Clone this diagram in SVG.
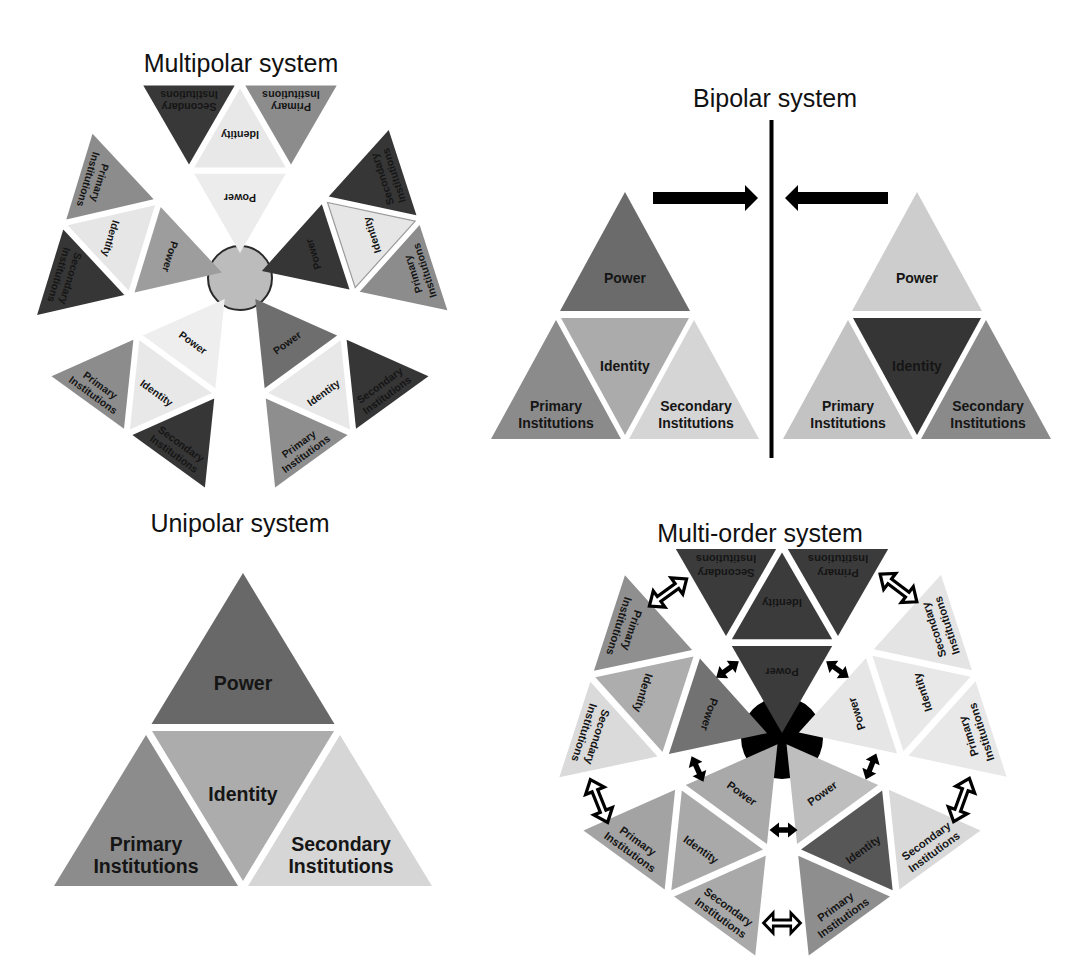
<svg xmlns="http://www.w3.org/2000/svg" width="1080" height="967" viewBox="0 0 1080 967">
<style>
.t{font-family:"Liberation Sans",Arial,sans-serif;font-weight:bold;fill:#151515;text-anchor:middle}
.ttl{font-family:"Liberation Sans",Arial,sans-serif;font-size:25px;fill:#111;text-anchor:middle}
.m{font-size:10.5px}.o{font-size:10px}.u{font-size:19.5px}.b{font-size:14px}
.sol{fill:#000}
.opn{fill:#fff;stroke:#000;stroke-width:3.2;stroke-linejoin:miter}
</style>
<defs>
<path id="da" d="M-14,0 L-4.5,-7.5 L-4.5,-2.7 L4.5,-2.7 L4.5,-7.5 L14,0 L4.5,7.5 L4.5,2.7 L-4.5,2.7 L-4.5,7.5 Z"/>
<path id="oa" d="M-23,0 L-11,-10 L-11,-3 L11,-3 L11,-10 L23,0 L11,10 L11,3 L-11,3 L-11,10 Z"/>
</defs>
<rect width="1080" height="967" fill="#fff"/>

<g id="titles">
<text class="ttl" x="241" y="72">Multipolar system</text>
<text class="ttl" x="775" y="107">Bipolar system</text>
<text class="ttl" x="240" y="532">Unipolar system</text>
<text class="ttl" x="760" y="542">Multi-order system</text>
</g>

<!-- Multipolar -->
<circle id="mp-center" cx="240" cy="278" r="32" fill="#bcbcbc" stroke="#2a2a2a" stroke-width="2"/>
<g id="mp-top" transform="translate(240,278) rotate(180) translate(0,19) scale(1.02)">
<polygon points="0,6 -44.8,83.6 44.8,83.6" fill="#ececec"/>
<polygon points="-44.8,89.6 44.8,89.6 0,167.2" fill="#e8e8e8"/>
<polygon points="-50,92.6 -94.8,170.2 -5.2,170.2" fill="#8c8c8c"/>
<polygon points="50,92.6 5.2,170.2 94.8,170.2" fill="#383838"/>
<text class="t m" x="0" y="63.7">Power</text>
<text class="t m" x="0" y="125.7">Identity</text>
<text class="t m" x="-50" y="152.6">Primary</text>
<text class="t m" x="-50" y="164.7">Institutions</text>
<text class="t m" x="50" y="152.6">Secondary</text>
<text class="t m" x="50" y="164.7">Institutions</text>
</g>
<g id="mp-left" transform="translate(240,278) rotate(107) translate(0,13)">
<polygon points="0,6 -44.8,83.6 44.8,83.6" fill="#9d9d9d"/>
<polygon points="-44.8,89.6 44.8,89.6 0,167.2" fill="#e6e6e6"/>
<polygon points="-50,92.6 -94.8,170.2 -5.2,170.2" fill="#8c8c8c"/>
<polygon points="50,92.6 5.2,170.2 94.8,170.2" fill="#363636"/>
<text class="t m" x="0" y="63.7">Power</text>
<text class="t m" x="0" y="125.7">Identity</text>
<text class="t m" x="-50" y="152.6">Primary</text>
<text class="t m" x="-50" y="164.7">Institutions</text>
<text class="t m" x="50" y="152.6">Secondary</text>
<text class="t m" x="50" y="164.7">Institutions</text>
</g>
<g id="mp-right" transform="translate(240,278) rotate(-108) translate(0,17)">
<polygon points="0,6 -44.8,83.6 44.8,83.6" fill="#363636"/>
<polygon points="-44.8,89.6 44.8,89.6 0,167.2" fill="#e6e6e6" stroke="#9a9a9a" stroke-width="1.2"/>
<polygon points="-50,92.6 -94.8,170.2 -5.2,170.2" fill="#8c8c8c"/>
<polygon points="50,92.6 5.2,170.2 94.8,170.2" fill="#363636"/>
<text class="t m" x="0" y="63.7">Power</text>
<text class="t m" x="0" y="125.7">Identity</text>
<text class="t m" x="-50" y="152.6">Primary</text>
<text class="t m" x="-50" y="164.7">Institutions</text>
<text class="t m" x="50" y="152.6">Secondary</text>
<text class="t m" x="50" y="164.7">Institutions</text>
</g>
<g id="mp-bottom-left" transform="translate(240,278) rotate(36) translate(0,20)">
<polygon points="0,6 -44.8,83.6 44.8,83.6" fill="#eeeeee"/>
<polygon points="-44.8,89.6 44.8,89.6 0,167.2" fill="#e8e8e8"/>
<polygon points="-50,92.6 -94.8,170.2 -5.2,170.2" fill="#8c8c8c"/>
<polygon points="50,92.6 5.2,170.2 94.8,170.2" fill="#363636"/>
<text class="t m" x="0" y="63.7">Power</text>
<text class="t m" x="0" y="125.7">Identity</text>
<text class="t m" x="-50" y="152.6">Primary</text>
<text class="t m" x="-50" y="164.7">Institutions</text>
<text class="t m" x="50" y="152.6">Secondary</text>
<text class="t m" x="50" y="164.7">Institutions</text>
</g>
<g id="mp-bottom-right" transform="translate(240,278) rotate(-36) translate(0,20)">
<polygon points="0,6 -44.8,83.6 44.8,83.6" fill="#6e6e6e"/>
<polygon points="-44.8,89.6 44.8,89.6 0,167.2" fill="#e8e8e8"/>
<polygon points="-50,92.6 -94.8,170.2 -5.2,170.2" fill="#8e8e8e"/>
<polygon points="50,92.6 5.2,170.2 94.8,170.2" fill="#363636"/>
<text class="t m" x="0" y="63.7">Power</text>
<text class="t m" x="0" y="125.7">Identity</text>
<text class="t m" x="-50" y="152.6">Primary</text>
<text class="t m" x="-50" y="164.7">Institutions</text>
<text class="t m" x="50" y="152.6">Secondary</text>
<text class="t m" x="50" y="164.7">Institutions</text>
</g>

<!-- Bipolar -->
<g id="bp-left">
<polygon points="625,192 560,311 690,311" fill="#6b6b6b"/>
<polygon points="561,318 689,318 625,435" fill="#ababab"/>
<polygon points="556,320 491,439 621,439" fill="#8b8b8b"/>
<polygon points="694,320 629,439 759,439" fill="#d5d5d5"/>
<text class="t b" x="625" y="283">Power</text>
<text class="t b" x="625" y="371">Identity</text>
<text class="t b" x="556" y="411">Primary</text>
<text class="t b" x="556" y="428">Institutions</text>
<text class="t b" x="696" y="411">Secondary</text>
<text class="t b" x="696" y="428">Institutions</text>
</g>
<g id="bp-right">
<polygon points="917,192 852,311 982,311" fill="#cdcdcd"/>
<polygon points="853,318 981,318 917,435" fill="#353535"/>
<polygon points="848,320 783,439 913,439" fill="#c3c3c3"/>
<polygon points="986,320 921,439 1051,439" fill="#8a8a8a"/>
<text class="t b" x="917" y="283">Power</text>
<text class="t b" x="917" y="371">Identity</text>
<text class="t b" x="848" y="411">Primary</text>
<text class="t b" x="848" y="428">Institutions</text>
<text class="t b" x="988" y="411">Secondary</text>
<text class="t b" x="988" y="428">Institutions</text>
</g>
<rect id="bp-divider" x="769.5" y="120" width="4" height="338" fill="#000"/>

<!-- Unipolar -->
<g id="up-unit">
<polygon points="243,573 151.5,724 334.5,724" fill="#686868"/>
<polygon points="152,731 334,731 243,881" fill="#acacac"/>
<polygon points="146,735 54,886 238,886" fill="#8c8c8c"/>
<polygon points="340,735 248,886 432,886" fill="#d6d6d6"/>
<text class="t u" x="243" y="690">Power</text>
<text class="t u" x="243" y="801">Identity</text>
<text class="t u" x="146" y="851">Primary</text>
<text class="t u" x="146" y="873">Institutions</text>
<text class="t u" x="341" y="851">Secondary</text>
<text class="t u" x="341" y="873">Institutions</text>
</g>

<!-- Multi-order -->
<circle id="mo-center" cx="782" cy="738" r="41" fill="#000"/>
<g id="mo-top" transform="translate(782,738) rotate(180) translate(0,-1.7) scale(1.12)">
<polygon points="0,6 -44.8,83.6 44.8,83.6" fill="#3b3b3b"/>
<polygon points="-44.8,89.6 44.8,89.6 0,167.2" fill="#3b3b3b"/>
<polygon points="-50,92.6 -94.8,170.2 -5.2,170.2" fill="#3b3b3b"/>
<polygon points="50,92.6 5.2,170.2 94.8,170.2" fill="#3b3b3b"/>
<text class="t o" x="0" y="63.7">Power</text>
<text class="t o" x="0" y="125.7">Identity</text>
<text class="t o" x="-50" y="152.6">Primary</text>
<text class="t o" x="-50" y="164.7">Institutions</text>
<text class="t o" x="50" y="152.6">Secondary</text>
<text class="t o" x="50" y="164.7">Institutions</text>
</g>
<g id="mo-upper-left" transform="translate(782,738) rotate(108) translate(0,9) scale(1.12)">
<polygon points="0,6 -44.8,83.6 44.8,83.6" fill="#727272"/>
<polygon points="-44.8,89.6 44.8,89.6 0,167.2" fill="#adadad"/>
<polygon points="-50,92.6 -94.8,170.2 -5.2,170.2" fill="#8f8f8f"/>
<polygon points="50,92.6 5.2,170.2 94.8,170.2" fill="#dadada"/>
<text class="t o" x="0" y="63.7">Power</text>
<text class="t o" x="0" y="125.7">Identity</text>
<text class="t o" x="-50" y="152.6">Primary</text>
<text class="t o" x="-50" y="164.7">Institutions</text>
<text class="t o" x="50" y="152.6">Secondary</text>
<text class="t o" x="50" y="164.7">Institutions</text>
</g>
<g id="mo-upper-right" transform="translate(782,738) rotate(-108) translate(0,11) scale(1.12)">
<polygon points="0,6 -44.8,83.6 44.8,83.6" fill="#e6e6e6"/>
<polygon points="-44.8,89.6 44.8,89.6 0,167.2" fill="#e8e8e8"/>
<polygon points="-50,92.6 -94.8,170.2 -5.2,170.2" fill="#e8e8e8"/>
<polygon points="50,92.6 5.2,170.2 94.8,170.2" fill="#e4e4e4"/>
<text class="t o" x="0" y="63.7">Power</text>
<text class="t o" x="0" y="125.7">Identity</text>
<text class="t o" x="-50" y="152.6">Primary</text>
<text class="t o" x="-50" y="164.7">Institutions</text>
<text class="t o" x="50" y="152.6">Secondary</text>
<text class="t o" x="50" y="164.7">Institutions</text>
</g>
<g id="mo-bottom-left" transform="translate(782,738) rotate(36) translate(0,1) scale(1.12)">
<polygon points="0,6 -44.8,83.6 44.8,83.6" fill="#a9a9a9"/>
<polygon points="-44.8,89.6 44.8,89.6 0,167.2" fill="#a9a9a9"/>
<polygon points="-50,92.6 -94.8,170.2 -5.2,170.2" fill="#a3a3a3"/>
<polygon points="50,92.6 5.2,170.2 94.8,170.2" fill="#a9a9a9"/>
<text class="t o" x="0" y="63.7">Power</text>
<text class="t o" x="0" y="125.7">Identity</text>
<text class="t o" x="-50" y="152.6">Primary</text>
<text class="t o" x="-50" y="164.7">Institutions</text>
<text class="t o" x="50" y="152.6">Secondary</text>
<text class="t o" x="50" y="164.7">Institutions</text>
</g>
<g id="mo-bottom-right" transform="translate(782,738) rotate(-36) translate(0,1) scale(1.12)">
<polygon points="0,6 -44.8,83.6 44.8,83.6" fill="#bebebe"/>
<polygon points="-44.8,89.6 44.8,89.6 0,167.2" fill="#575757"/>
<polygon points="-50,92.6 -94.8,170.2 -5.2,170.2" fill="#8e8e8e"/>
<polygon points="50,92.6 5.2,170.2 94.8,170.2" fill="#d9d9d9"/>
<text class="t o" x="0" y="63.7">Power</text>
<text class="t o" x="0" y="125.7">Identity</text>
<text class="t o" x="-50" y="152.6">Primary</text>
<text class="t o" x="-50" y="164.7">Institutions</text>
<text class="t o" x="50" y="152.6">Secondary</text>
<text class="t o" x="50" y="164.7">Institutions</text>
</g>

<g id="connectors">
<polygon class="sol" points="653,192 745,192 745,185 758,198 745,211 745,204 653,204"/>
<polygon class="sol" points="888,192 798,192 798,185 785,198 798,211 798,204 888,204"/>
<use href="#da" class="sol" transform="translate(727.5,669.5) rotate(-36)"/>
<use href="#da" class="sol" transform="translate(837.5,669.5) rotate(36)"/>
<use href="#da" class="sol" transform="translate(697.5,769) rotate(65)"/>
<use href="#da" class="sol" transform="translate(871,766.5) rotate(112)"/>
<use href="#da" class="sol" transform="translate(783.5,830)"/>
<use href="#oa" class="opn" transform="translate(668,592.5) rotate(-36)"/>
<use href="#oa" class="opn" transform="translate(898.5,588) rotate(37)"/>
<use href="#oa" class="opn" transform="translate(599,801) rotate(68)"/>
<use href="#oa" class="opn" transform="translate(961.5,800) rotate(110)"/>
<use href="#oa" class="opn" transform="translate(782,923) scale(0.8,1)"/>
</g>
</svg>
